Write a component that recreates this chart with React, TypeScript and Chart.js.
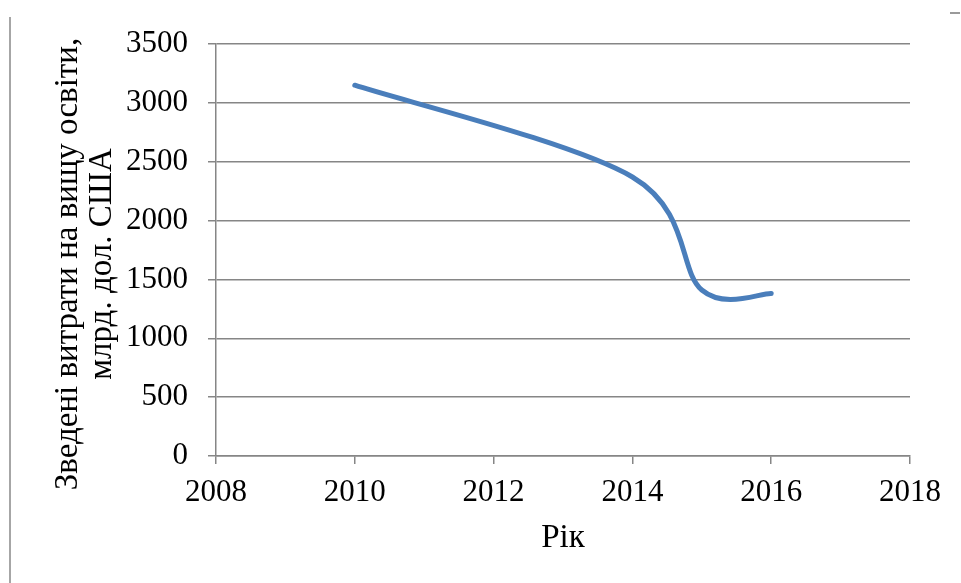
import React, { useEffect, useRef } from "react";
import { Chart, registerables } from "chart.js";

Chart.register(...registerables);

// Consolidated spending on higher education, bn USD
const years = [2010, 2014, 2015, 2016];
const spending = [3150, 2370, 1410, 1380];

// Axis ranges and tick steps
const xRange = [2008, 2018];
const xStep = 2;
const yRange = [0, 3500];
const yStep = 500;

// Axis titles
const yTitleLines = ["Зведені витрати на вищу освіти,", "млрд. дол. США"];
const xTitle = "Рік";

const AXIS_GRAY = "#868686";
const LINE_BLUE = "#4a7ebb";
const FONT = "'Liberation Serif', 'Times New Roman', Tinos, serif";
const TICK_SIZE = 31;
const TITLE_SIZE = 33;

const W = 961;
const H = 583;

// Office-style smoothed line: each point's handles run along the chord of its
// neighbours at 1/6 of its length (endpoints use their single neighbour).
const smoothPlugin = {
  id: "chordSmoothing",
  beforeDatasetDraw(chart: any, args: any) {
    const meta = args.meta;
    const line = meta.dataset;
    if (!line) return;
    line.updateControlPoints(chart.chartArea, meta.iScale ? meta.iScale.axis : "x");
    const pts = meta.data;
    for (let i = 0; i < pts.length; i++) {
      const p = pts[i];
      const prev = pts[i - 1] || p;
      const next = pts[i + 1] || p;
      const dx = (next.x - prev.x) / 6;
      const dy = (next.y - prev.y) / 6;
      p.cp1x = p.x - dx;
      p.cp1y = p.y - dy;
      p.cp2x = p.x + dx;
      p.cp2y = p.y + dy;
    }
    line._path = undefined;
  },
};

// Two-line vertical title on the left, drawn rotated
const yTitlePlugin = {
  id: "yTitleLines",
  afterDraw(chart: any) {
    const ctx = chart.ctx as CanvasRenderingContext2D;
    const lineH = 34;
    ctx.save();
    ctx.translate(68, 264);
    ctx.rotate(-Math.PI / 2);
    ctx.fillStyle = "#000";
    ctx.font = `${TITLE_SIZE}px ${FONT}`;
    ctx.textAlign = "center";
    ctx.textBaseline = "middle";
    yTitleLines.forEach((line, i) => ctx.fillText(line, 0, i * lineH));
    ctx.restore();
  },
};

export default function App() {
  const ref = useRef<HTMLCanvasElement | null>(null);

  useEffect(() => {
    let chart: Chart | null = null;
    let cancelled = false;

    const build = () => {
      if (cancelled || !ref.current) return;
      chart = new Chart(ref.current, {
        type: "scatter",
        data: {
          datasets: [
            {
              data: years.map((x, i) => ({ x, y: spending[i] })),
              showLine: true,
              borderColor: LINE_BLUE,
              backgroundColor: LINE_BLUE,
              borderWidth: 5,
              borderCapStyle: "round",
              borderJoinStyle: "round",
              pointRadius: 0,
              pointHoverRadius: 0,
              tension: 0.4,
            },
          ],
        },
        options: {
          responsive: false,
          animation: false,
          events: [],
          layout: { padding: { top: 44, right: 51, bottom: 0, left: 0 } },
          plugins: {
            legend: { display: false },
            tooltip: { enabled: false },
          },
          scales: {
            x: {
              type: "linear",
              min: xRange[0],
              max: xRange[1],
              afterFit: (s: any) => {
                s.height = 127;
              },
              ticks: {
                stepSize: xStep,
                padding: 10,
                color: "#000",
                font: { family: FONT, size: TICK_SIZE },
                callback: (v: any) => String(v),
              },
              grid: {
                drawOnChartArea: false,
                drawTicks: true,
                tickLength: 8,
                color: AXIS_GRAY,
                lineWidth: 1.5,
              },
              border: { display: true, color: AXIS_GRAY, width: 1.5 },
              title: {
                display: true,
                text: xTitle,
                color: "#000",
                font: { family: FONT, size: TITLE_SIZE },
                padding: { top: 0, bottom: 25 },
              },
            },
            y: {
              type: "linear",
              min: yRange[0],
              max: yRange[1],
              afterFit: (s: any) => {
                s.width = 216;
              },
              ticks: {
                stepSize: yStep,
                padding: 20,
                color: "#000",
                font: { family: FONT, size: TICK_SIZE },
                callback: (v: any) => String(v),
              },
              grid: {
                drawTicks: true,
                tickLength: 8,
                color: AXIS_GRAY,
                lineWidth: 1.5,
              },
              border: { display: true, color: AXIS_GRAY, width: 1.5 },
            },
          },
        },
        plugins: [smoothPlugin, yTitlePlugin],
      });
    };

    const fonts = (document as any).fonts;
    if (fonts && fonts.load) {
      Promise.all([
        fonts.load(`${TICK_SIZE}px 'Liberation Serif'`, "0123456789"),
        fonts.load(`${TITLE_SIZE}px 'Liberation Serif'`, yTitleLines.join(" ") + xTitle),
      ])
        .catch(() => undefined)
        .then(build);
    } else {
      build();
    }

    return () => {
      cancelled = true;
      if (chart) chart.destroy();
    };
  }, []);

  return (
    <div style={{ position: "fixed", left: 0, top: 0, width: W, height: H, background: "#fff" }}>
      <canvas ref={ref} width={W} height={H} style={{ display: "block", width: W, height: H }} />
      <div style={{ position: "absolute", left: 9, top: 17, width: 2, height: H - 17, background: "#a6a6a6" }} />
      <div style={{ position: "absolute", left: 950, top: 12, width: 10, height: 2, background: "#9a9a9a" }} />
    </div>
  );
}
